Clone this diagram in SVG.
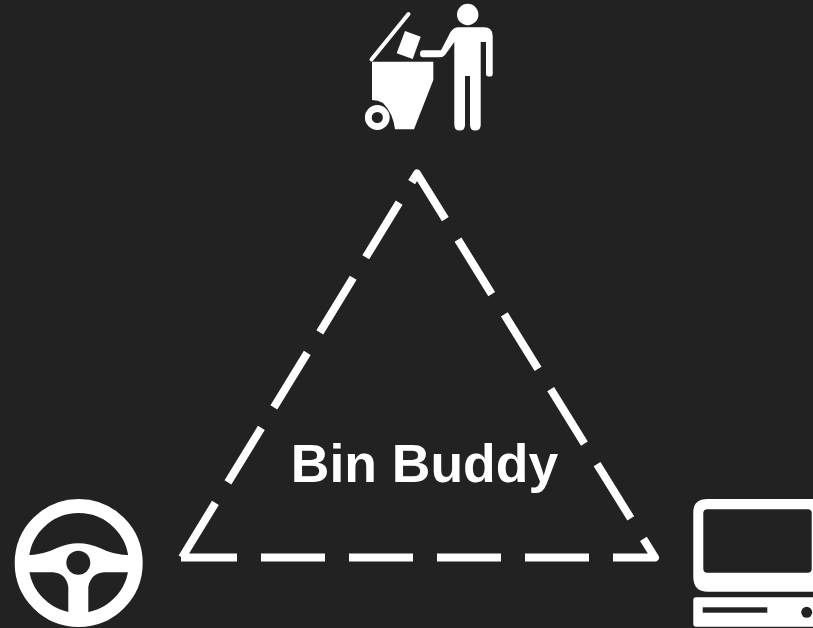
<svg xmlns="http://www.w3.org/2000/svg" width="813" height="628" viewBox="0 0 813 628">
<defs><filter id="soft" x="-20%" y="-20%" width="140%" height="140%"><feGaussianBlur stdDeviation="0.6"/></filter></defs>
<style>
.w{fill:#fff}
.k{fill:#222}
.d{fill:none;stroke:#fff;stroke-width:8;stroke-dasharray:64 24;stroke-linecap:butt;stroke-linejoin:round}
.i{filter:url(#soft)}
text{font-family:"Liberation Sans",Arial,sans-serif;font-weight:700;font-size:53.5px;fill:#fff}
</style>
<rect width="813" height="628" fill="#222"/>
<g id="connectors">
<path class="d" d="M182 557.500L417 173.500L655 557.500L181 557.500"/>
</g>
<g id="person-bin" class="i">
<circle class="w" cx="467.700" cy="14.500" r="10.700"/>
<path class="w" d="M458 27.300H484Q492.700 27.300 492.700 36V74Q492.700 76.500 490 76.500H488.500Q486 76.500 486 74V42H480.700V125Q480.700 130.500 475.300 130.500Q470 130.500 470 125V76H465V125Q465 130.500 459.700 130.500Q454.300 130.500 454.300 125V42L445 55Q443 57.300 440 57.300H423Q420 57.300 420 53.700Q420 50.300 423 50.300H441L449 35Q452.500 27.300 458 27.300Z"/>
<path class="w" d="M372 61.700H433.300V80L414 129.300H395Q393 113 383 103Q378 100 372 100Z"/>
<path d="M371.500 59.500L408.500 14" fill="none" stroke="#fff" stroke-width="4" stroke-linecap="round"/>
<path class="w" d="M405 31L420.700 36.700L412.700 59L396.700 53.300Z"/>
<circle cx="377.300" cy="117.500" r="9" fill="none" stroke="#fff" stroke-width="6.800"/>
</g>
<g id="steering-wheel" class="i">
<circle cx="78.700" cy="563" r="57" fill="none" stroke="#fff" stroke-width="14"/>
<path class="w" d="M26 555.300Q43 555 57 548Q78.300 538.500 100 548Q113 555 131 555.300V572.300H104Q91 573 88.300 587V616H68.300V587Q66 573 53 572.300H26Z"/>
<circle class="k" cx="78.300" cy="562.700" r="12"/>
</g>
<g id="computer" class="i">
<path class="w" d="M815 499H708Q693.300 499 693.300 512V577Q693.300 591.700 708 591.700H815Z"/>
<rect class="k" x="703.300" y="509.300" width="108.400" height="63.400" rx="4"/>
<path class="w" d="M696 597.300H815V626.700H696Q693.300 626.700 693.300 624V600Q693.300 597.300 696 597.300Z"/>
<rect class="k" x="702.700" y="607.300" width="64.600" height="5.400"/>
<circle class="k" cx="806.700" cy="612.300" r="5.500"/>
</g>
<g id="label"><text x="424.500" y="482" text-anchor="middle">Bin Buddy</text></g>
</svg>
